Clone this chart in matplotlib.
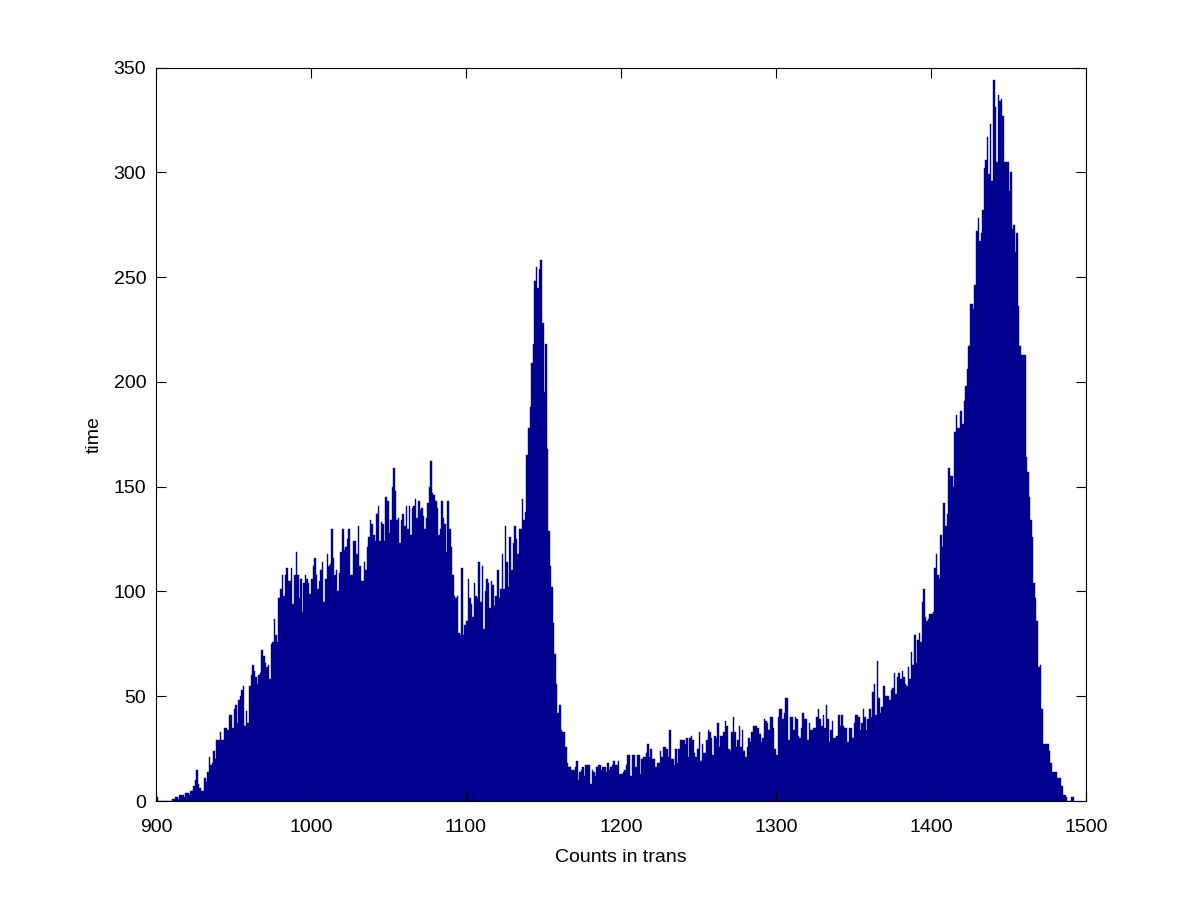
import numpy as np
import matplotlib.pyplot as plt

# histogram counts, one bin per unit, first bin starts at 900
first_bin = 900

counts_900 = [2, 0, 0, 0, 0, 0, 0, 0, 0, 0,
              1, 1, 2, 2, 1, 3, 3, 3, 2, 4, 4, 3, 5, 5, 7, 10, 15, 8, 6, 5,
              5, 11, 9, 14, 21, 17, 18, 24, 20, 29, 29, 33, 29, 29, 35, 35, 34, 41, 41, 35,
              44, 46, 37, 48, 50, 53, 55, 36, 43, 37, 55, 60, 65, 62, 59, 56, 60, 61, 72, 69,
              66, 64, 65, 58, 75, 76]

counts_976 = [87, 79, 76, 97, 101, 108, 98, 108, 111, 105, 105, 111, 94, 108, 119, 108, 97, 106, 90, 104,
              108, 106, 104, 99, 106, 112, 116, 108, 101, 105, 110, 114, 95, 106, 118, 112, 113, 130, 116, 108,
              110, 100, 109, 119, 130, 120, 121, 125, 130, 108, 108, 124, 124, 118, 131, 112, 105, 105, 114, 110,
              121, 126, 134, 132, 127, 124, 137, 141, 124, 133, 132, 124, 145, 143, 128, 134, 150, 159]

counts_1054 = [148, 134, 135, 123, 134, 137, 131, 141, 130, 141, 127, 140, 141, 144, 135, 143, 139, 140, 136, 130,
               135, 142, 150, 162, 147, 146, 143, 140, 127, 130, 143, 135, 132, 119, 143, 130, 121, 108, 98, 97,
               98, 80, 79, 111, 79, 84, 86, 106, 97, 94, 88, 104, 98, 97, 114, 95, 112, 82, 100, 106,
               104, 92, 105, 103, 93, 98, 110, 97, 101, 118, 101, 131, 114, 102, 126, 110, 123, 131, 125, 118,
               130]

counts_1135 = [130, 144, 134, 138, 165, 178, 188, 209, 218, 248, 255, 245, 254, 258, 228, 195, 218, 168, 129, 112,
               102, 85, 70, 56, 42, 46, 34, 33, 33, 26, 18,
               16, 16, 15, 15, 16, 19, 10, 14, 15, 16, 12, 17, 17, 17, 8, 15, 14, 12, 16, 17,
               17, 15, 16, 16, 14, 18, 15, 16, 17, 19, 17, 17, 19, 13, 13, 14, 15, 17, 22, 22,
               12, 22, 22, 16, 22, 22, 13, 20, 21, 21]

counts_1216 = [23, 27, 21, 25, 20, 20, 16, 18, 18, 24, 21, 26, 26, 25, 21, 34, 20, 20, 17, 25,
               18, 25, 29, 29, 29, 27, 30, 21, 30, 31, 29, 23, 21, 25, 33, 19, 27, 23, 23, 29,
               34, 33, 30, 22, 31, 30, 37, 26, 31, 31, 33, 38, 36, 25, 24, 33, 40, 33, 26, 29,
               36, 26, 34, 24, 21, 26, 30, 28, 33, 36, 36, 36, 35, 32]

counts_1290 = [28, 30, 39, 38, 37, 34, 40, 40, 35, 25, 22, 40, 44, 44, 39, 42, 49, 49, 29, 40,
               40, 34, 40, 39, 31, 30, 35, 42, 39, 39, 29, 37, 34, 34, 35, 35, 40, 44, 39, 36,
               41, 35, 46, 39, 28, 34, 38, 30, 30, 31, 41, 36, 41, 36, 35, 35, 28, 35, 35, 30,
               37, 41, 41, 40, 34, 37, 44, 40, 34, 39, 44, 40, 52, 56, 41]

counts_1365 = [67, 49, 42, 45, 55, 50, 50, 50, 48, 53, 54, 61, 51, 59, 61, 58, 62, 59, 56, 55,
               64, 58, 71, 65, 79, 66, 77, 80, 76, 95, 101, 88, 86, 87, 89, 89, 90, 111, 118, 108,
               106, 127, 121, 142, 131, 137, 159, 155, 155, 150, 176, 184, 178, 178, 186, 180, 191, 198, 206, 217,
               237, 237, 235, 246, 272, 278, 267, 271, 282, 302, 306, 317, 299, 323, 296, 344, 331, 305, 337, 334]

counts_1445 = [335, 327, 305, 305, 305, 291, 300, 273, 275, 262, 271, 236, 217, 213, 213, 213, 164, 157, 145, 134,
               126, 104, 97, 86, 64, 65, 44, 27, 27, 27, 27, 24, 18, 14, 14, 14, 11, 11, 11, 7,
               3, 3, 2, 0, 0, 2, 2]

x_ticks = [900, 1000, 1100, 1200, 1300, 1400, 1500]
y_ticks = [0, 50, 100, 150, 200, 250, 300, 350]

counts = np.array(counts_900 + counts_976 + counts_1054 + counts_1135 +
                  counts_1216 + counts_1290 + counts_1365 + counts_1445)
bins = first_bin + np.arange(len(counts))

plt.rcParams['font.family'] = ['Liberation Sans', 'DejaVu Sans']

fig = plt.figure(figsize=(12, 9), dpi=100)
ax = fig.add_axes([0.13, 0.11, 0.775, 0.815])

bar_color = '#00008F'
ax.bar(bins, counts, width=1.0, align='edge', color=bar_color,
       edgecolor=bar_color, linewidth=0.3)

ax.set_xlim(900, 1500)
ax.set_ylim(0, 350)
ax.set_xticks(x_ticks)
ax.set_yticks(y_ticks)
ax.tick_params(direction='in', length=7, width=0.8, top=True, right=True,
               labelsize=14)
ax.tick_params(axis='x', pad=13)
ax.tick_params(axis='y', pad=7)
for spine in ax.spines.values():
    spine.set_linewidth(0.8)

ax.set_xlabel('Counts in trans', fontsize=14, labelpad=9)
ax.set_ylabel('time', fontsize=14, labelpad=8)

fig.savefig('out.png', dpi=100, facecolor='white')
